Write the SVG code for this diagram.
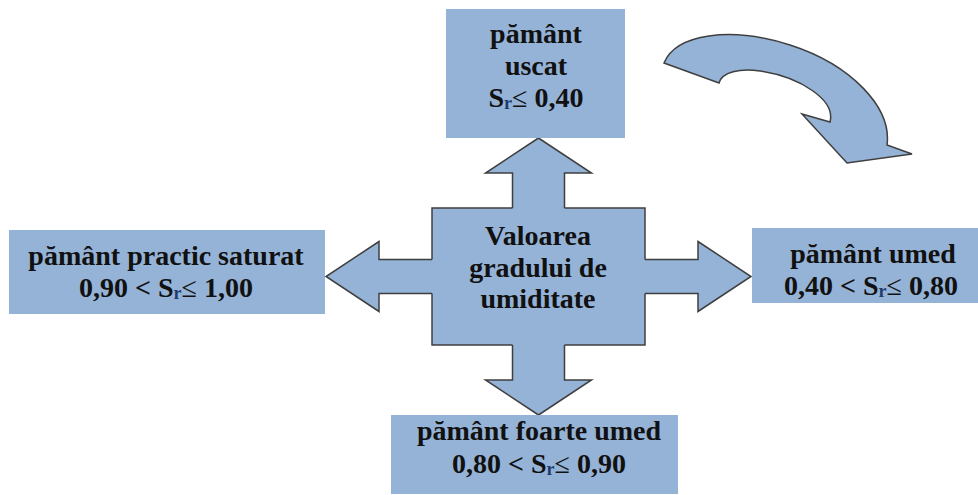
<svg xmlns="http://www.w3.org/2000/svg" width="978" height="495" viewBox="0 0 978 495">
  <style>
    .box { fill: #95b3d7; }
    .shape { fill: #95b3d7; stroke: #3f3f3f; stroke-width: 1.5; stroke-linejoin: miter; }
    .edge { fill: none; stroke: #3f3f3f; stroke-width: 1.5; }
    .lbl { font-family: 'Liberation Serif', 'DejaVu Serif', serif; font-size: 28px; font-weight: bold; fill: #111111; text-anchor: middle; }
    .sub { font-size: 18px; fill: #1f3a6a; }
    .le { font-weight: normal; }
  </style>

  <rect width="978" height="495" fill="#ffffff"/>

  <!-- block arrows radiating from the central shape -->
  <g id="connectors">
    <polygon class="shape" points="512.5,220 512.5,173 485.5,173 538.5,138 591.5,173 564.5,173 564.5,220"/>
    <polygon class="shape" points="512.5,333 512.5,380 485.5,380 538.5,415 591.5,380 564.5,380 564.5,333"/>
    <polygon class="shape" points="444,259.5 379,259.5 379,241.5 326,276.5 379,311.5 379,293.5 444,293.5"/>
    <polygon class="shape" points="633,259.5 698,259.5 698,241.5 751,276.5 698,311.5 698,293.5 633,293.5"/>
  </g>

  <!-- central node -->
  <g id="center">
    <rect class="box" x="432" y="208" width="213" height="137"/>
    <path class="edge" d="M512.5,208 L432,208 L432,259.5 M432,293.5 L432,345 L512.5,345 M564.5,345 L645,345 L645,293.5 M645,259.5 L645,208 L564.5,208"/>
    <text class="lbl" font-family="Liberation Serif, DejaVu Serif, serif" x="538" y="245">Valoarea</text>
    <text class="lbl" font-family="Liberation Serif, DejaVu Serif, serif" x="538" y="277">gradului de</text>
    <text class="lbl" font-family="Liberation Serif, DejaVu Serif, serif" x="538" y="308">umiditate</text>
  </g>

  <g id="dry">
    <rect class="box" x="446" y="9" width="179" height="129"/>
    <text class="lbl" font-family="Liberation Serif, DejaVu Serif, serif" x="536" y="43">pământ</text>
    <text class="lbl" font-family="Liberation Serif, DejaVu Serif, serif" x="536" y="75">uscat</text>
    <text class="lbl" font-family="Liberation Serif, DejaVu Serif, serif" x="536" y="107">S<tspan class="sub" dy="2">r</tspan><tspan class="le" dy="-2">≤</tspan> 0,40</text>
  </g>

  <g id="saturated">
    <rect class="box" x="9" y="230" width="316" height="84"/>
    <text class="lbl" font-family="Liberation Serif, DejaVu Serif, serif" x="166" y="265">pământ practic saturat</text>
    <text class="lbl" font-family="Liberation Serif, DejaVu Serif, serif" x="166" y="297">0,90 &lt; S<tspan class="sub" dy="2">r</tspan><tspan class="le" dy="-2">≤</tspan> 1,00</text>
  </g>

  <g id="moist">
    <rect class="box" x="752" y="228" width="226" height="75"/>
    <text class="lbl" font-family="Liberation Serif, DejaVu Serif, serif" x="873" y="263">pământ umed</text>
    <text class="lbl" font-family="Liberation Serif, DejaVu Serif, serif" x="871" y="295">0,40 &lt; S<tspan class="sub" dy="2">r</tspan><tspan class="le" dy="-2">≤</tspan> 0,80</text>
  </g>

  <g id="very-moist">
    <rect class="box" x="391" y="415" width="287" height="79"/>
    <text class="lbl" font-family="Liberation Serif, DejaVu Serif, serif" x="539" y="440">pământ foarte umed</text>
    <text class="lbl" font-family="Liberation Serif, DejaVu Serif, serif" x="539" y="473">0,80 &lt; S<tspan class="sub" dy="2">r</tspan><tspan class="le" dy="-2">≤</tspan> 0,90</text>
  </g>

  <!-- curved clockwise arrow -->
  <g id="curved-arrow">
    <path class="shape" stroke-width="1.2" d="M664,63 C676,34 730,26 790,45 C852,65 892,108 887,145 L912,154 L847,163 L802,114 L830,122 C836,100 800,77 760,71 C740,68 722,72 719,83 Z"/>
  </g>
</svg>
